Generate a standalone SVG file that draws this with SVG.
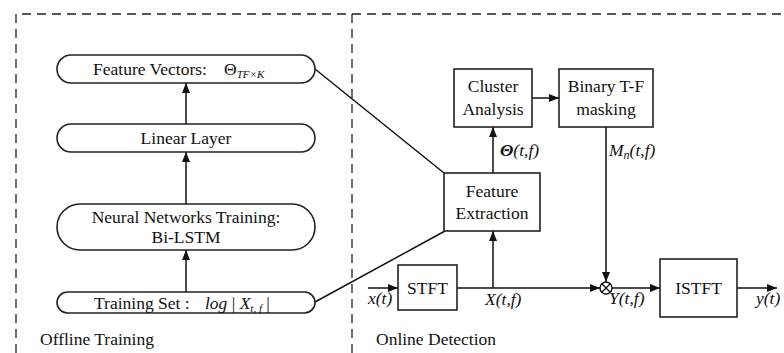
<svg xmlns="http://www.w3.org/2000/svg" width="784" height="353" viewBox="0 0 784 353">
  <style>
    .t { font-family: 'Liberation Serif', 'DejaVu Serif', serif; font-size: 17.5px; fill: #111; }
    .i { font-style: italic; }
    .box { fill: #fff; stroke: #222; stroke-width: 1.6; }
    .ln { fill: none; stroke: #111; stroke-width: 1.5; }
    .dash { fill: none; stroke: #222; stroke-width: 1.3; stroke-dasharray: 9 6; }
  </style>
  <defs>
    <marker id="ah" viewBox="0 0 10 8" refX="10" refY="4" markerWidth="10" markerHeight="8" markerUnits="userSpaceOnUse" orient="auto">
      <path d="M0,0 L10,4 L0,8 Z" fill="#111"/>
    </marker>
  </defs>
  <rect width="784" height="353" fill="#fff"/>

  <!-- region frames -->
  <g id="frames">
    <path class="dash" d="M16,353 V14 H784"/>
    <path class="dash" d="M352,14 V353"/>
    <text class="t" x="40" y="345">Offline Training</text>
    <text class="t" x="376" y="345">Online Detection</text>
  </g>

  <!-- connectors -->
  <g id="connectors">
    <line class="ln" x1="186" y1="124" x2="186" y2="83" marker-end="url(#ah)"/>
    <line class="ln" x1="186" y1="204" x2="186" y2="152" marker-end="url(#ah)"/>
    <line class="ln" x1="186" y1="292" x2="186" y2="250" marker-end="url(#ah)"/>
    <line class="ln" x1="315" y1="69" x2="444" y2="173"/>
    <line class="ln" x1="315" y1="302" x2="445" y2="231"/>
    <line class="ln" x1="493" y1="173" x2="493" y2="127" marker-end="url(#ah)"/>
    <line class="ln" x1="532" y1="98" x2="559" y2="98" marker-end="url(#ah)"/>
    <line class="ln" x1="606" y1="127" x2="606" y2="282" marker-end="url(#ah)"/>
    <line class="ln" x1="368" y1="288" x2="398" y2="288" marker-end="url(#ah)"/>
    <line class="ln" x1="457" y1="288" x2="600" y2="288" marker-end="url(#ah)"/>
    <line class="ln" x1="493" y1="288" x2="493" y2="231" marker-end="url(#ah)"/>
    <line class="ln" x1="612" y1="288" x2="660" y2="288" marker-end="url(#ah)"/>
    <line class="ln" x1="737" y1="288" x2="777" y2="288" marker-end="url(#ah)"/>
    <text class="t" x="500" y="156"><tspan font-weight="bold" font-style="italic">Θ</tspan><tspan class="i">(t,f)</tspan></text>
    <text class="t i" x="609" y="156">M<tspan font-size="12" dy="3">n</tspan><tspan dy="-3">(t,f)</tspan></text>
    <text class="t i" x="368" y="304">x(t)</text>
    <text class="t i" x="485" y="305">X(t,f)</text>
    <text class="t i" x="609" y="304">Y(t,f)</text>
    <text class="t i" x="756" y="304">y(t)</text>
  </g>

  <!-- offline training nodes -->
  <g id="feature-vectors">
    <rect class="box" x="57" y="55" width="258" height="28" rx="14"/>
    <text class="t" x="93" y="75" font-size="16.5">Feature Vectors:<tspan x="224">Θ</tspan><tspan class="i" font-size="11" dy="3">TF×K</tspan></text>
  </g>
  <g id="linear-layer">
    <rect class="box" x="57" y="124" width="258" height="28" rx="14"/>
    <text class="t" x="186" y="144" text-anchor="middle">Linear Layer</text>
  </g>
  <g id="bi-lstm">
    <rect class="box" x="57" y="204" width="258" height="46" rx="23"/>
    <text class="t" x="186" y="223" text-anchor="middle">Neural Networks Training:</text>
    <text class="t" x="186" y="243" text-anchor="middle">Bi-LSTM</text>
  </g>
  <g id="training-set">
    <rect class="box" x="57" y="292" width="258" height="21" rx="10.5"/>
    <text class="t" x="94" y="309">Training Set :<tspan class="i" x="205">log</tspan><tspan> | </tspan><tspan class="i">X</tspan><tspan class="i" font-size="11" dy="3">t, f</tspan><tspan dy="-3"> |</tspan></text>
  </g>

  <!-- online detection nodes -->
  <g id="cluster-analysis">
    <rect class="box" x="454" y="69" width="78" height="58"/>
    <text class="t" x="493" y="92" text-anchor="middle">Cluster</text>
    <text class="t" x="493" y="115" text-anchor="middle">Analysis</text>
  </g>
  <g id="binary-masking">
    <rect class="box" x="559" y="69" width="94" height="58"/>
    <text class="t" x="606" y="92" text-anchor="middle">Binary T-F</text>
    <text class="t" x="606" y="115" text-anchor="middle">masking</text>
  </g>
  <g id="feature-extraction">
    <rect class="box" x="444" y="173" width="96" height="58"/>
    <text class="t" x="492" y="197" text-anchor="middle">Feature</text>
    <text class="t" x="492" y="219" text-anchor="middle">Extraction</text>
  </g>
  <g id="stft">
    <rect class="box" x="398" y="265" width="59" height="45"/>
    <text class="t" x="427.5" y="294" text-anchor="middle">STFT</text>
  </g>
  <g id="multiplier">
    <circle cx="606" cy="288" r="6" fill="#fff" stroke="#111" stroke-width="1.4"/>
    <path d="M601.8,283.8 L610.2,292.2 M610.2,283.8 L601.8,292.2" stroke="#111" stroke-width="1.3"/>
  </g>
  <g id="istft">
    <rect class="box" x="660" y="259" width="77" height="58"/>
    <text class="t" x="698.5" y="294" text-anchor="middle">ISTFT</text>
  </g>
</svg>
